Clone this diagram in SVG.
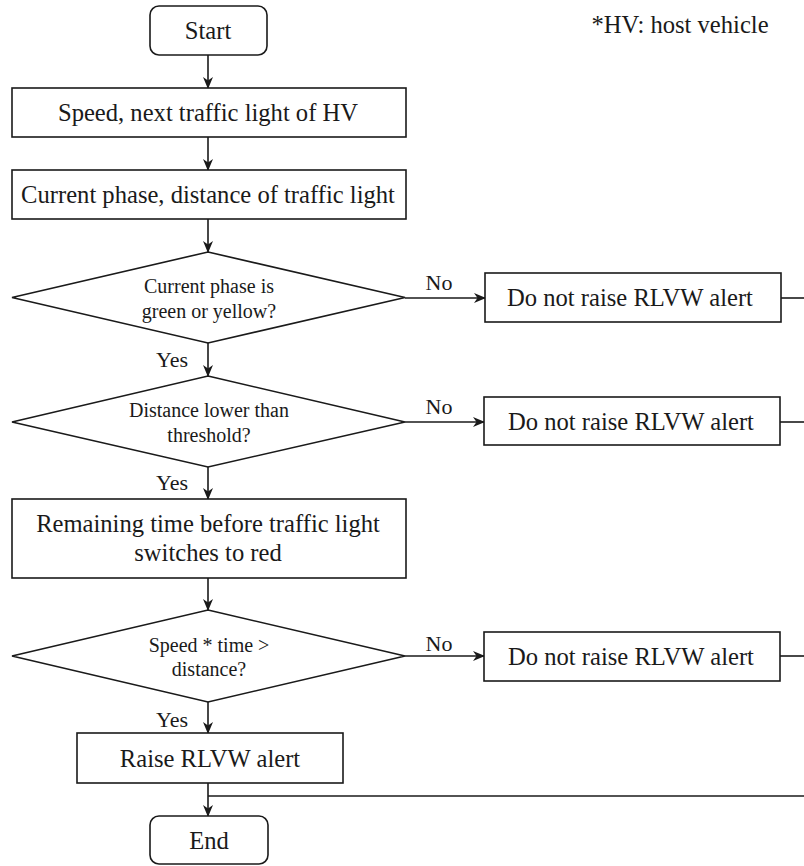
<svg xmlns="http://www.w3.org/2000/svg" width="804" height="866" viewBox="0 0 804 866" font-family="'Liberation Serif', 'Times New Roman', serif">
  <style>
    .shape { fill: #ffffff; stroke: #1a1a1a; stroke-width: 1.6; }
    .edge { fill: none; stroke: #1a1a1a; stroke-width: 1.6; }
    .arrow { marker-end: url(#head); }
    .txt { font-family: 'Liberation Serif', 'Times New Roman', serif; fill: #1a1a1a; text-anchor: middle; }
    .t24 { font-size: 24.6px; }
    .t20 { font-size: 20px; }
    .lbl { font-size: 22px; }
  </style>
  <defs>
    <marker id="head" viewBox="0 0 12 12" refX="11" refY="6" markerWidth="12" markerHeight="12" markerUnits="userSpaceOnUse" orient="auto">
      <path d="M0,1 L12,6 L0,11 L3.5,6 Z" fill="#1a1a1a"/>
    </marker>
  </defs>

  <rect width="804" height="866" fill="#ffffff"/>

  <!-- connectors and their Yes/No labels -->
  <g id="connectors">
    <line class="edge arrow" x1="208" y1="55" x2="208" y2="88"/>
    <line class="edge arrow" x1="208" y1="137" x2="208" y2="170"/>
    <line class="edge arrow" x1="208" y1="219" x2="208" y2="252"/>
    <line class="edge arrow" x1="208" y1="343" x2="208" y2="376"/>
    <line class="edge arrow" x1="208" y1="467" x2="208" y2="499"/>
    <line class="edge arrow" x1="208" y1="578" x2="208" y2="610"/>
    <line class="edge arrow" x1="208" y1="702" x2="208" y2="733"/>
    <line class="edge arrow" x1="208" y1="783" x2="208" y2="816"/>
    <line class="edge" x1="208" y1="796" x2="804" y2="796"/>

    <line class="edge arrow" x1="405" y1="298" x2="485" y2="298"/>
    <line class="edge" x1="781" y1="298" x2="804" y2="298"/>
    <line class="edge arrow" x1="405" y1="422" x2="484" y2="422"/>
    <line class="edge" x1="780" y1="422" x2="804" y2="422"/>
    <line class="edge arrow" x1="405" y1="656" x2="484" y2="656"/>
    <line class="edge" x1="780" y1="656" x2="804" y2="656"/>

    <text class="txt lbl" x="439" y="290">No</text>
    <text class="txt lbl" x="439" y="414">No</text>
    <text class="txt lbl" x="439" y="651">No</text>
    <text class="txt lbl" x="172" y="367">Yes</text>
    <text class="txt lbl" x="172" y="490">Yes</text>
    <text class="txt lbl" x="172" y="727">Yes</text>
  </g>

  <g id="start">
    <rect class="shape" x="150" y="6" width="117" height="49" rx="9"/>
    <text class="txt t24" x="208" y="39">Start</text>
  </g>

  <g id="hv-speed">
    <rect class="shape" x="12" y="88" width="394" height="49"/>
    <text class="txt t24" x="208" y="121">Speed, next traffic light of HV</text>
  </g>

  <g id="light-info">
    <rect class="shape" x="12" y="170" width="394" height="49"/>
    <text class="txt t24" x="208" y="203">Current phase, distance of traffic light</text>
  </g>

  <g id="check-phase">
    <polygon class="shape" points="208,252 405,297.5 208,343 12,297.5"/>
    <text class="txt t20" x="209" y="293">Current phase is</text>
    <text class="txt t20" x="209" y="318">green or yellow?</text>
  </g>

  <g id="no-alert-1">
    <rect class="shape" x="485" y="273" width="296" height="49"/>
    <text class="txt t24" x="630" y="306">Do not raise RLVW alert</text>
  </g>

  <g id="check-distance">
    <polygon class="shape" points="208,376 405,422 208,467 12,422"/>
    <text class="txt t20" x="209" y="417">Distance lower than</text>
    <text class="txt t20" x="209" y="442">threshold?</text>
  </g>

  <g id="no-alert-2">
    <rect class="shape" x="484" y="397" width="296" height="48"/>
    <text class="txt t24" x="631" y="430">Do not raise RLVW alert</text>
  </g>

  <g id="remaining-time">
    <rect class="shape" x="12" y="499" width="394" height="79"/>
    <text class="txt t24" x="208" y="532">Remaining time before traffic light</text>
    <text class="txt t24" x="208" y="561">switches to red</text>
  </g>

  <g id="check-speed">
    <polygon class="shape" points="208,610 405,656 208,702 12,656"/>
    <text class="txt t20" x="209" y="652">Speed * time &gt;</text>
    <text class="txt t20" x="209" y="676">distance?</text>
  </g>

  <g id="no-alert-3">
    <rect class="shape" x="484" y="632" width="296" height="49"/>
    <text class="txt t24" x="631" y="665">Do not raise RLVW alert</text>
  </g>

  <g id="raise-alert">
    <rect class="shape" x="77" y="733" width="266" height="50"/>
    <text class="txt t24" x="210" y="767">Raise RLVW alert</text>
  </g>

  <g id="end">
    <rect class="shape" x="150" y="816" width="118" height="48" rx="9"/>
    <text class="txt t24" x="209" y="849">End</text>
  </g>

  <g id="note">
    <text class="txt t24" x="680" y="33">*HV: host vehicle</text>
  </g>
</svg>
